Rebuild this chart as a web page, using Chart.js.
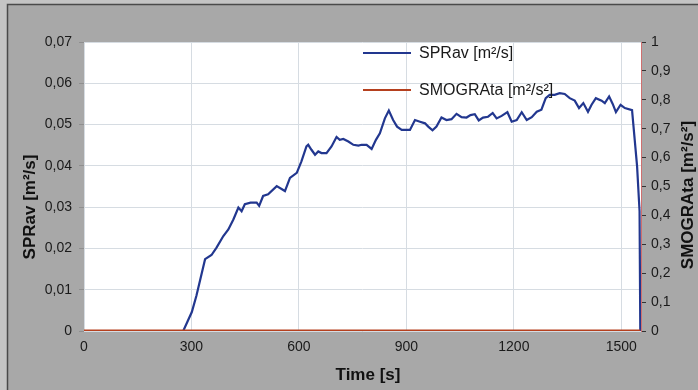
<!DOCTYPE html>
<html>
<head>
<meta charset="utf-8">
<script src="https://cdn.jsdelivr.net/npm/chart.js@4/dist/chart.umd.min.js"></script>
<style>
  html, body { margin: 0; padding: 0; background: #c4c4c4; }
  #wrap { width: 698px; height: 390px; }
</style>
</head>
<body>
<div id="wrap"><canvas id="c" width="698" height="390"></canvas></div>
<script>
// ---- data ----
const sprTimes = [0, 277, 301, 314, 338, 356, 370, 389, 403, 417, 431, 440, 449, 465, 482, 489, 500, 514, 538, 561, 575, 594, 607, 621, 626, 635, 645, 654, 663, 677, 691, 705, 714, 724, 738, 752, 766, 775, 789, 803, 815, 826, 840, 851, 863, 874, 887, 896, 910, 924, 938, 952, 961, 973, 984, 998, 1012, 1026, 1040, 1054, 1068, 1079, 1091, 1102, 1114, 1128, 1141, 1152, 1166, 1182, 1194, 1208, 1222, 1236, 1250, 1264, 1277, 1289, 1300, 1314, 1328, 1342, 1356, 1370, 1382, 1394, 1407, 1417, 1429, 1445, 1454, 1466, 1476, 1485, 1498, 1510, 1530, 1544, 1551, 1553];
const sprValues = [0, 0, 0.0046, 0.0086, 0.0174, 0.0184, 0.0202, 0.0230, 0.0246, 0.0270, 0.0299, 0.0290, 0.0307, 0.0311, 0.0311, 0.0303, 0.0327, 0.0331, 0.0351, 0.0339, 0.0371, 0.0383, 0.0411, 0.0447, 0.0451, 0.0439, 0.0427, 0.0435, 0.0431, 0.0431, 0.0447, 0.0470, 0.0463, 0.0465, 0.0459, 0.0451, 0.0449, 0.0451, 0.0451, 0.0441, 0.0463, 0.0479, 0.0515, 0.0534, 0.0511, 0.0495, 0.0487, 0.0487, 0.0487, 0.0511, 0.0507, 0.0503, 0.0495, 0.0486, 0.0495, 0.0517, 0.0511, 0.0513, 0.0526, 0.0518, 0.0517, 0.0523, 0.0525, 0.0510, 0.0517, 0.0519, 0.0528, 0.0515, 0.0521, 0.0530, 0.0507, 0.0511, 0.0530, 0.0511, 0.0518, 0.0531, 0.0536, 0.0564, 0.0572, 0.0572, 0.0576, 0.0574, 0.0564, 0.0558, 0.0540, 0.0552, 0.0531, 0.0548, 0.0564, 0.0558, 0.0552, 0.0568, 0.0550, 0.0530, 0.0548, 0.0540, 0.0535, 0.0400, 0.0290, 0];
const smogTimes = [0, 1553];
const smogValues = [0, 0];
const xTicks = [0, 300, 600, 900, 1200, 1500];
const xTickLabels = ['0', '300', '600', '900', '1200', '1500'];
const yLeftTicks = [0, 0.01, 0.02, 0.03, 0.04, 0.05, 0.06, 0.07];
const yLeftLabels = ['0', '0,01', '0,02', '0,03', '0,04', '0,05', '0,06', '0,07'];
const yRightTicks = [0, 0.1, 0.2, 0.3, 0.4, 0.5, 0.6, 0.7, 0.8, 0.9, 1];
const yRightLabels = ['0', '0,1', '0,2', '0,3', '0,4', '0,5', '0,6', '0,7', '0,8', '0,9', '1'];
const seriesNames = ['SPRav [m\u00B2/s]', 'SMOGRAta [m\u00B2/s\u00B2]'];
const axisTitles = { x: 'Time [s]', left: 'SPRav [m\u00B2/s]', right: 'SMOGRAta [m\u00B2/s\u00B2]' };

const BLUE = '#22378f';
const RED = '#b5401e';
const FONT = "'Liberation Sans', Arial, sans-serif";

const pts = (xs, ys) => xs.map((x, i) => ({ x: x, y: ys[i] }));

const framePlugin = {
  id: 'frame',
  beforeDraw(chart) {
    const ctx = chart.ctx, a = chart.chartArea;
    ctx.save();
    ctx.fillStyle = '#c4c4c4';
    ctx.fillRect(0, 0, chart.width, chart.height);
    ctx.fillStyle = '#a8a8a8';
    ctx.fillRect(7, 4, chart.width - 7, chart.height - 4);
    ctx.strokeStyle = '#4a4a4a';
    ctx.lineWidth = 1.5;
    ctx.beginPath();
    ctx.moveTo(7.5, chart.height); ctx.lineTo(7.5, 4.5); ctx.lineTo(chart.width, 4.5);
    ctx.stroke();
    ctx.fillStyle = '#ffffff';
    ctx.fillRect(a.left, a.top, a.right - a.left, a.bottom - a.top);
    ctx.restore();
  },
  afterDraw(chart) {
    const ctx = chart.ctx;
    ctx.save();
    // legend
    const ds = chart.data.datasets;
    const rows = [53, 90];
    ds.forEach((d, i) => {
      ctx.strokeStyle = d.borderColor;
      ctx.lineWidth = 2;
      ctx.beginPath();
      ctx.moveTo(363, rows[i]); ctx.lineTo(411, rows[i]);
      ctx.stroke();
      ctx.fillStyle = '#1a1a1a';
      ctx.font = '16px ' + FONT;
      ctx.textAlign = 'left';
      ctx.textBaseline = 'middle';
      ctx.fillText(d.label, 419, rows[i] + 1);
    });
    // axis titles
    ctx.fillStyle = '#111';
    ctx.font = 'bold 17px ' + FONT;
    ctx.textAlign = 'center';
    ctx.textBaseline = 'middle';
    ctx.fillText(axisTitles.x, 368, 375);
    ctx.save();
    ctx.translate(30, 207);
    ctx.rotate(-Math.PI / 2);
    ctx.fillText(axisTitles.left, 0, 0);
    ctx.restore();
    ctx.save();
    ctx.translate(688, 195);
    ctx.rotate(-Math.PI / 2);
    ctx.fillText(axisTitles.right, 0, 0);
    ctx.restore();
    ctx.restore();
  }
};

new Chart(document.getElementById('c'), {
  type: 'line',
  data: {
    datasets: [
      {
        label: seriesNames[0],
        data: pts(sprTimes, sprValues),
        borderColor: BLUE,
        borderWidth: 2.2,
        pointRadius: 0,
        tension: 0,
        yAxisID: 'y',
        order: 2
      },
      {
        label: seriesNames[1],
        data: pts(smogTimes, smogValues),
        borderColor: RED,
        borderWidth: 3,
        pointRadius: 0,
        yAxisID: 'y1',
        order: 1
      }
    ]
  },
  options: {
    responsive: false,
    animation: false,
    layout: { padding: { top: 42, left: 0, right: 0, bottom: 0 } },
    plugins: { legend: { display: false }, tooltip: { enabled: false } },
    scales: {
      x: {
        type: 'linear',
        min: 0,
        max: 1555,
        afterBuildTicks: s => { s.ticks = xTicks.map(v => ({ value: v })); },
        afterFit: s => { s.height = 59; },
        grid: { color: '#d6dce2', lineWidth: 1, drawTicks: false },
        border: { display: false },
        ticks: {
          padding: 8,
          color: '#1a1a1a',
          font: { family: FONT, size: 14 },
          maxRotation: 0,
          callback: (v, i) => xTickLabels[i]
        }
      },
      y: {
        position: 'left',
        min: 0,
        max: 0.07,
        afterBuildTicks: s => { s.ticks = yLeftTicks.map(v => ({ value: v })); },
        afterFit: s => { s.width = 84; },
        grid: { color: '#d6dce2', lineWidth: 1, tickLength: 5, tickColor: '#8f8f8f' },
        border: { display: false },
        ticks: {
          padding: 7,
          color: '#1a1a1a',
          font: { family: FONT, size: 14 },
          callback: (v, i) => yLeftLabels[i]
        }
      },
      y1: {
        position: 'right',
        min: 0,
        max: 1,
        afterBuildTicks: s => { s.ticks = yRightTicks.map(v => ({ value: v })); },
        afterFit: s => { s.width = 57; },
        grid: { drawOnChartArea: false, tickLength: 5, tickColor: '#333', lineWidth: 1 },
        border: { display: true, color: '#cf6f6f', width: 1 },
        ticks: {
          padding: 5,
          color: '#1a1a1a',
          font: { family: FONT, size: 14 },
          callback: (v, i) => yRightLabels[i]
        }
      }
    }
  },
  plugins: [framePlugin]
});
</script>
</body>
</html>
